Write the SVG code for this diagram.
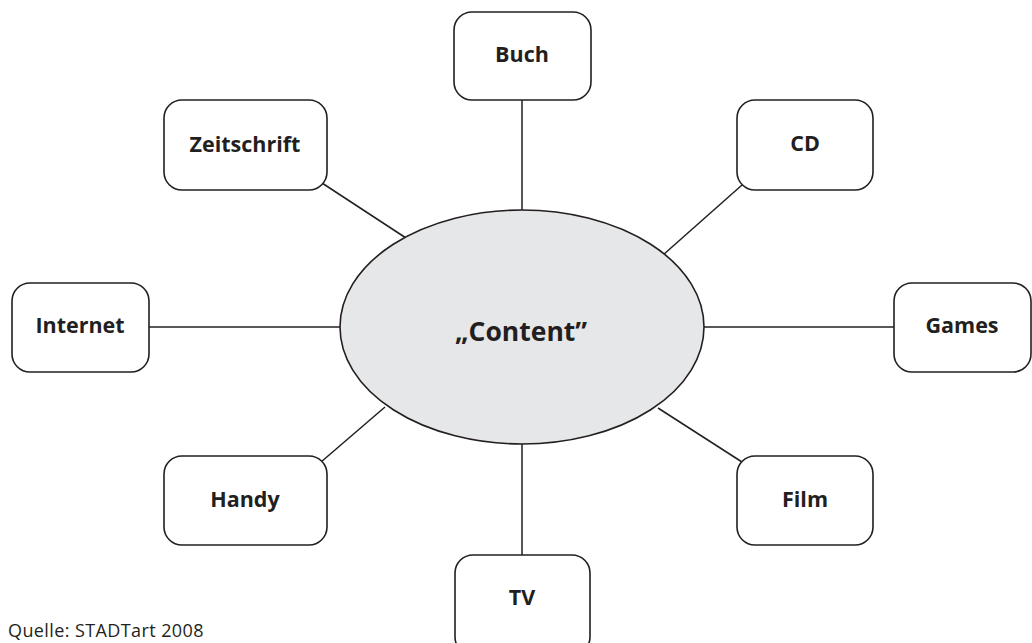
<svg xmlns="http://www.w3.org/2000/svg" width="1032" height="643" viewBox="0 0 1032 643">
  <style>
    .box { fill: #ffffff; stroke: #231f20; stroke-width: 1.6; }
    .hub { fill: #e6e7e8; stroke: #231f20; stroke-width: 1.6; }
    .link { stroke: #231f20; stroke-width: 1.5; fill: none; }
    .label { font-family: "Open Sans", "Liberation Sans", sans-serif; font-weight: 700; font-size: 21.5px; fill: #231f20; text-anchor: middle; }
    .hubLabel { font-family: "Open Sans", "Liberation Sans", sans-serif; font-weight: 700; font-size: 26.5px; fill: #231f20; text-anchor: middle; }
    .source { font-family: "Open Sans", "Liberation Sans", sans-serif; font-size: 18px; letter-spacing: 0.4px; fill: #231f20; }
  </style>
  <rect width="1032" height="643" fill="#ffffff"/>

  <!-- spokes from the hub to each medium -->
  <g id="connectors">
    <line class="link" x1="522" y1="100" x2="522" y2="210"/>
    <line class="link" x1="322" y1="183" x2="406" y2="238"/>
    <line class="link" x1="742" y1="185" x2="663" y2="255"/>
    <line class="link" x1="149" y1="327" x2="340" y2="327"/>
    <line class="link" x1="704" y1="327" x2="894" y2="327"/>
    <line class="link" x1="321" y1="462" x2="385" y2="407"/>
    <line class="link" x1="742" y1="462" x2="658" y2="408"/>
    <line class="link" x1="522" y1="444" x2="522" y2="555"/>
  </g>

  <g id="content">
    <ellipse class="hub" cx="522" cy="327" rx="182" ry="117"/>
    <text class="hubLabel" x="521" y="341">„Content”</text>
  </g>

  <g id="buch">
    <rect class="box" x="454" y="12" width="137" height="88" rx="18"/>
    <text class="label" x="522" y="62">Buch</text>
  </g>
  <g id="zeitschrift">
    <rect class="box" x="164" y="100" width="163" height="90" rx="18"/>
    <text class="label" x="245" y="152">Zeitschrift</text>
  </g>
  <g id="cd">
    <rect class="box" x="737" y="100" width="136" height="90" rx="18"/>
    <text class="label" x="805" y="151">CD</text>
  </g>
  <g id="internet">
    <rect class="box" x="12" y="283" width="137" height="89" rx="18"/>
    <text class="label" x="80" y="333">Internet</text>
  </g>
  <g id="games">
    <rect class="box" x="894" y="283" width="137" height="89" rx="18"/>
    <text class="label" x="962" y="333">Games</text>
  </g>
  <g id="handy">
    <rect class="box" x="164" y="456" width="163" height="89" rx="18"/>
    <text class="label" x="245" y="507">Handy</text>
  </g>
  <g id="film">
    <rect class="box" x="737" y="456" width="136" height="89" rx="18"/>
    <text class="label" x="805" y="507">Film</text>
  </g>
  <g id="tv">
    <rect class="box" x="455" y="555" width="135" height="100" rx="18"/>
    <text class="label" x="522" y="605">TV</text>
  </g>

  <text class="source" x="8" y="637">Quelle: STADTart 2008</text>
</svg>
